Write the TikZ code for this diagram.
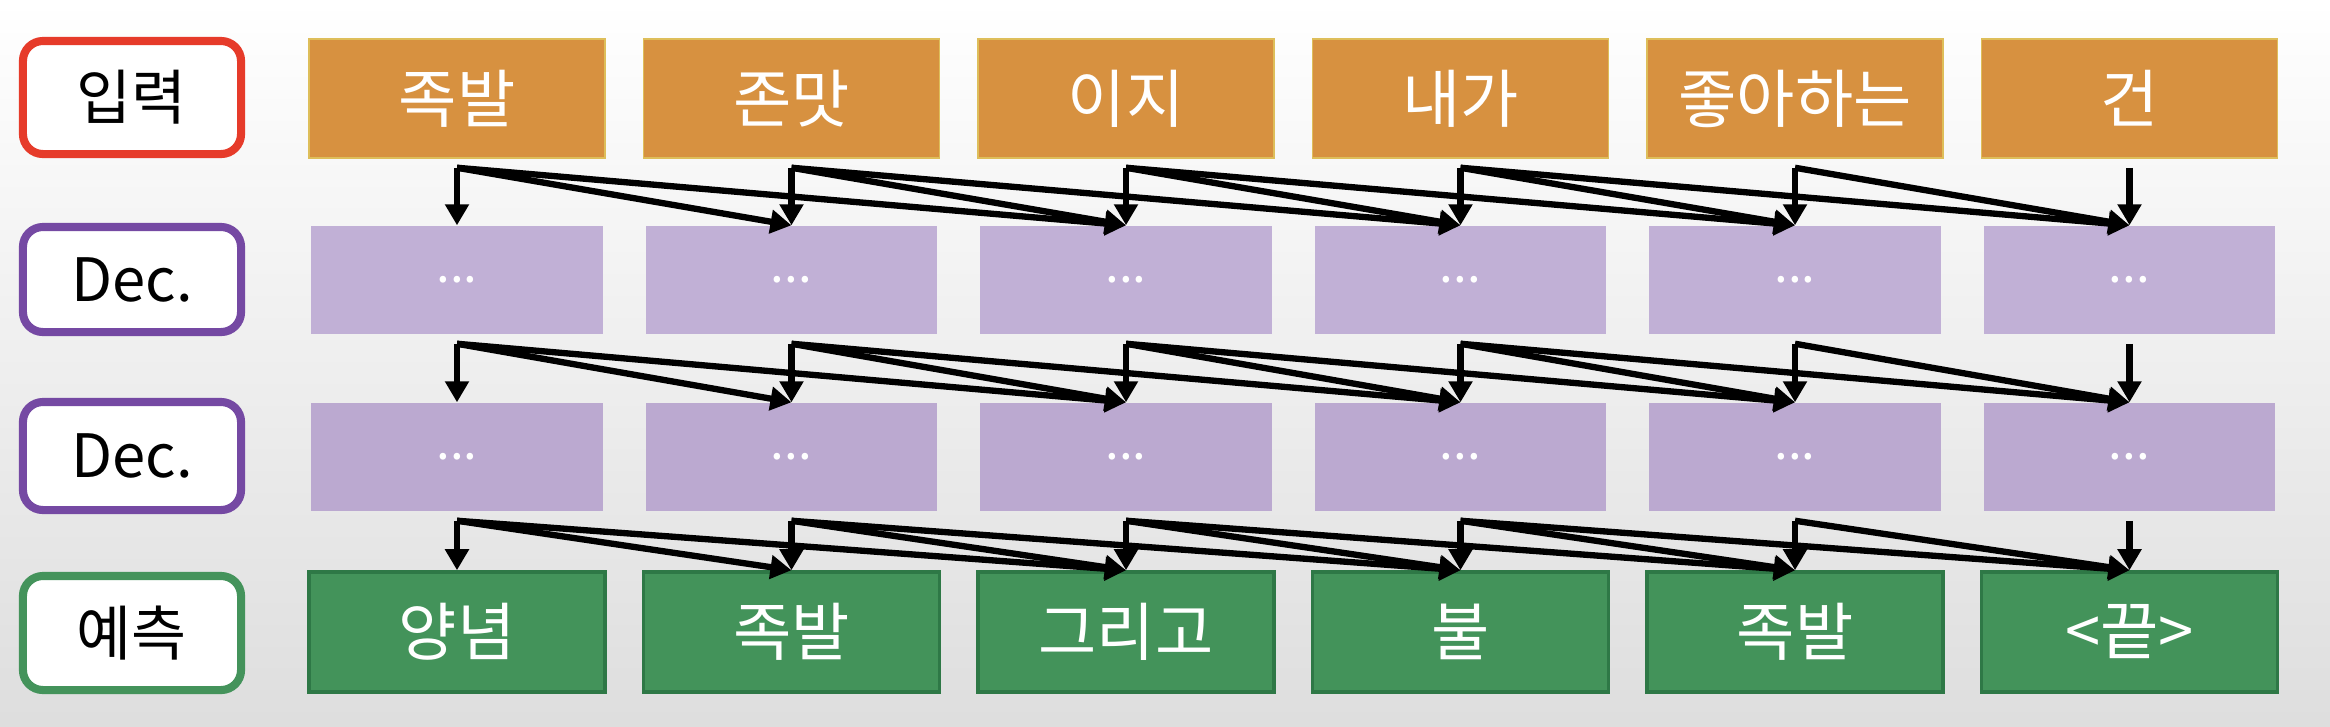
\documentclass[tikz,border=0pt]{standalone}
\usepackage{tikz}
\usepackage{xcolor}
\usepackage{fontspec}
\setmainfont{Noto Sans CJK KR}
\usetikzlibrary{arrows.meta}

\definecolor{inorange}{RGB}{215,145,64}
\definecolor{inedge}{RGB}{222,190,90}
\definecolor{declilac}{RGB}{193,176,214}
\definecolor{declilacb}{RGB}{187,169,208}
\definecolor{outgreen}{RGB}{67,147,90}
\definecolor{outedge}{RGB}{46,120,70}
\definecolor{lblred}{RGB}{230,59,42}
\definecolor{lblpurple}{RGB}{117,73,163}
\definecolor{lblgreen}{RGB}{68,147,91}

\begin{document}
\begin{tikzpicture}[x=0.01cm, y=0.01cm,
	lbl/.style={draw, line width=2.3pt, rounded corners=0.2cm, fill=white, minimum width=2.18cm, text=black, font=\fontsize{17}{20}\selectfont},
	tok/.style={minimum width=2.96cm, text=white, font=\fontsize{18}{22}\selectfont},
	dec/.style={fill=declilac, minimum width=2.91cm, minimum height=1.08cm, text=white, font=\fontsize{14}{16}\selectfont},
	arr/.style={line width=1.8pt, -{Triangle[length=2.1mm, width=2.3mm]}}]
				\tikzstyle{every node}+=[inner sep=0pt]
				% background
				\shade [top color=white, middle color=white, bottom color=black!13] (0,0) rectangle (2330,-726);
				\useasboundingbox (0,0) rectangle (2330,-726);
				% row labels
				\node [lbl, draw=lblred, minimum height=1.13cm] (lin) at (132,-97.5) {입력};
				\node [lbl, draw=lblpurple, minimum height=1.05cm] (lda) at (132,-279.5) {Dec.};
				\node [lbl, draw=lblpurple, minimum height=1.08cm] (ldb) at (132,-456) {Dec.};
				\node [lbl, draw=lblgreen, minimum height=1.14cm] (lout) at (132,-633) {예측};
				% input
				\node [tok, fill=inorange, draw=inedge, line width=0.4pt, minimum height=1.19cm] (in1) at (457,-98.5) {족발};
				\node [tok, fill=inorange, draw=inedge, line width=0.4pt, minimum height=1.19cm] (in2) at (791.5,-98.5) {존맛};
				\node [tok, fill=inorange, draw=inedge, line width=0.4pt, minimum height=1.19cm] (in3) at (1126,-98.5) {이지};
				\node [tok, fill=inorange, draw=inedge, line width=0.4pt, minimum height=1.19cm] (in4) at (1460.5,-98.5) {내가};
				\node [tok, fill=inorange, draw=inedge, line width=0.4pt, minimum height=1.19cm] (in5) at (1795,-98.5) {좋아하는};
				\node [tok, fill=inorange, draw=inedge, line width=0.4pt, minimum height=1.19cm] (in6) at (2129.5,-98.5) {건};
				% decoders
				\node [dec] (da1) at (457,-280) {...};
				\node [dec] (da2) at (791.5,-280) {...};
				\node [dec] (da3) at (1126,-280) {...};
				\node [dec] (da4) at (1460.5,-280) {...};
				\node [dec] (da5) at (1795,-280) {...};
				\node [dec] (da6) at (2129.5,-280) {...};
				\node [dec, fill=declilacb] (db1) at (457,-457) {...};
				\node [dec, fill=declilacb] (db2) at (791.5,-457) {...};
				\node [dec, fill=declilacb] (db3) at (1126,-457) {...};
				\node [dec, fill=declilacb] (db4) at (1460.5,-457) {...};
				\node [dec, fill=declilacb] (db5) at (1795,-457) {...};
				\node [dec, fill=declilacb] (db6) at (2129.5,-457) {...};
				% prediction
				\node [tok, fill=outgreen, draw=outedge, line width=1pt, minimum height=1.2cm] (out1) at (457,-632) {양념};
				\node [tok, fill=outgreen, draw=outedge, line width=1pt, minimum height=1.2cm] (out2) at (791.5,-632) {족발};
				\node [tok, fill=outgreen, draw=outedge, line width=1pt, minimum height=1.2cm] (out3) at (1126,-632) {그리고};
				\node [tok, fill=outgreen, draw=outedge, line width=1pt, minimum height=1.2cm] (out4) at (1460.5,-632) {불};
				\node [tok, fill=outgreen, draw=outedge, line width=1pt, minimum height=1.2cm] (out5) at (1795,-632) {족발};
				\node [tok, fill=outgreen, draw=outedge, line width=1pt, minimum height=1.2cm] (out6) at (2129.5,-632) {<끝>};
				% each token feeds itself and the next two
				\foreach \src/\dst in {in/da, da/db, db/out}
					\foreach \i in {1,...,6} {
						\pgfmathtruncatemacro\last{min(\i+2,6)}
						\foreach \j in {\i,...,\last}
							\draw [arr] (\src\i.south) ++(0,-9) -- (\dst\j.north);
					}
\end{tikzpicture}
\end{document}
